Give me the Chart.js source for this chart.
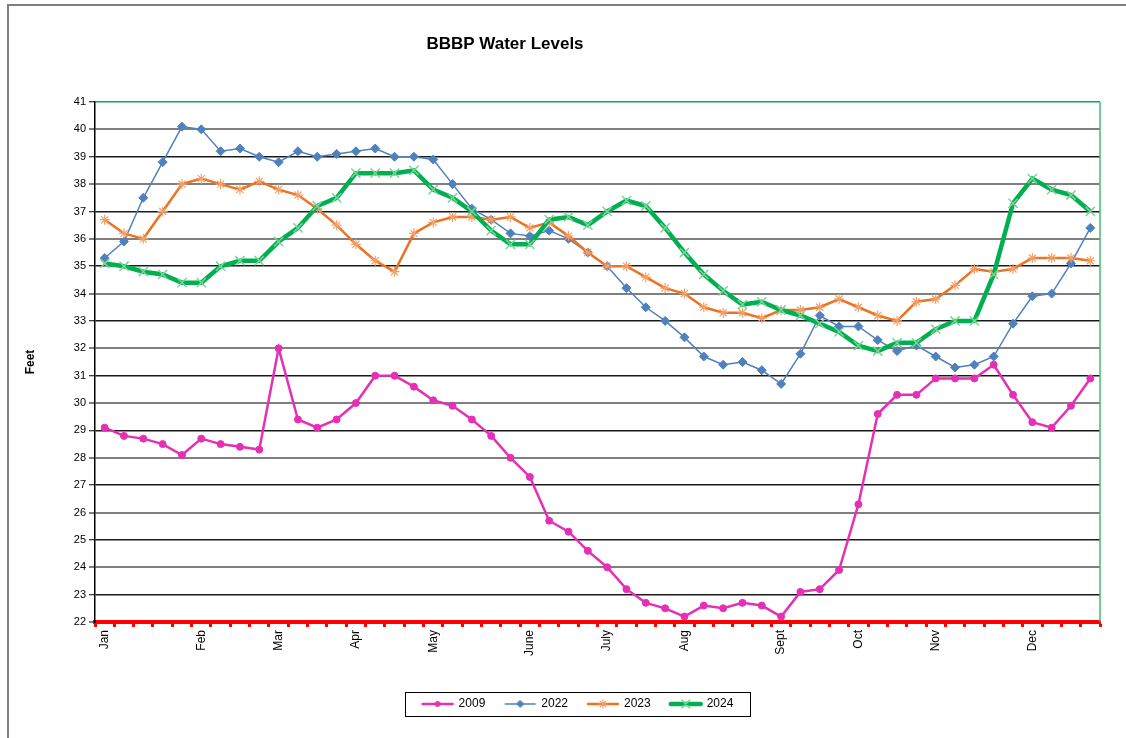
<!DOCTYPE html>
<html>
<head>
<meta charset="utf-8">
<script src="https://cdn.jsdelivr.net/npm/chart.js@4.4.1/dist/chart.umd.min.js"></script>
<style>
html,body{margin:0;padding:0;background:#fff;}
#wrap{position:relative;width:1126px;height:738px;overflow:hidden;}
#frame{position:absolute;left:7px;top:4px;width:1300px;height:900px;border:2px solid #808080;box-sizing:border-box;}
#c{position:absolute;left:0;top:0;}
</style>
</head>
<body>
<div id="wrap"><div id="frame"></div><canvas id="c" width="1126" height="738"></canvas></div>
<script>
const chartTitle = 'BBBP Water Levels';
const yAxisTitle = 'Feet';
const weekLabels = ['Jan','','','','','Feb','','','','Mar','','','','Apr','','','','May','','','','','June','','','','July','','','','Aug','','','','','Sept','','','','Oct','','','','Nov','','','','','Dec','','',''];
const seriesNames = ['2009','2022','2023','2024'];
const levels2009 = [29.1,28.8,28.7,28.5,28.1,28.7,28.5,28.4,28.3,32.0, 29.4,29.1,29.4,30.0,31.0,31.0,30.6,30.1,29.9,29.4, 28.8,28.0,27.3,25.7,25.3,24.6,24.0,23.2,22.7,22.5, 22.2,22.6,22.5,22.7,22.6,22.2,23.1,23.2,23.9,26.3, 29.6,30.3,30.3,30.9,30.9,30.9,31.4,30.3,29.3,29.1, 29.9,30.9];
const levels2022 = [35.3,35.9,37.5,38.8,40.1,40.0,39.2,39.3,39.0,38.8, 39.2,39.0,39.1,39.2,39.3,39.0,39.0,38.9,38.0,37.1, 36.7,36.2,36.1,36.3,36.0,35.5,35.0,34.2,33.5,33.0, 32.4,31.7,31.4,31.5,31.2,30.7,31.8,33.2,32.8,32.8, 32.3,31.9,32.1,31.7,31.3,31.4,31.7,32.9,33.9,34.0, 35.1,36.4];
const levels2023 = [36.7,36.2,36.0,37.0,38.0,38.2,38.0,37.8,38.1,37.8, 37.6,37.1,36.5,35.8,35.2,34.8,36.2,36.6,36.8,36.8, 36.7,36.8,36.4,36.6,36.1,35.5,35.0,35.0,34.6,34.2, 34.0,33.5,33.3,33.3,33.1,33.4,33.4,33.5,33.8,33.5, 33.2,33.0,33.7,33.8,34.3,34.9,34.8,34.9,35.3,35.3, 35.3,35.2];
const levels2024 = [35.1,35.0,34.8,34.7,34.4,34.4,35.0,35.2,35.2,35.9, 36.4,37.2,37.5,38.4,38.4,38.4,38.5,37.8,37.5,37.0, 36.3,35.8,35.8,36.7,36.8,36.5,37.0,37.4,37.2,36.4, 35.5,34.7,34.1,33.6,33.7,33.4,33.2,32.9,32.6,32.1, 31.9,32.2,32.2,32.7,33.0,33.0,34.7,37.3,38.2,37.8, 37.6,37.0];
const yMin = 22, yMax = 41;

const FONT = "'Liberation Sans', Arial, sans-serif";
Chart.defaults.font.family = FONT;
Chart.defaults.color = '#000';

function drawMarker(g, style, x, y, r, fill, stroke, bw) {
  g.save();
  g.fillStyle = fill; g.strokeStyle = stroke; g.lineWidth = bw;
  g.beginPath();
  if (style === 'circle') {
    g.arc(x, y, r, 0, Math.PI * 2); g.fill(); g.stroke();
  } else if (style === 'rectRot') {
    g.moveTo(x, y - r); g.lineTo(x + r, y); g.lineTo(x, y + r); g.lineTo(x - r, y); g.closePath(); g.fill(); g.stroke();
  } else if (style === 'star') {
    g.moveTo(x - r, y); g.lineTo(x + r, y);
    g.moveTo(x, y - r); g.lineTo(x, y + r);
    const d = r * 0.707;
    g.moveTo(x - d, y - d); g.lineTo(x + d, y + d);
    g.moveTo(x - d, y + d); g.lineTo(x + d, y - d);
    g.stroke();
  } else if (style === 'crossRot') {
    const d = r * 0.707;
    g.moveTo(x - d, y - d); g.lineTo(x + d, y + d);
    g.moveTo(x - d, y + d); g.lineTo(x + d, y - d);
    g.stroke();
  }
  g.restore();
}
function legendSample(color, lw, style, r, fill, stroke, bw) {
  const c = document.createElement('canvas');
  c.width = 36; c.height = 14;
  const g = c.getContext('2d');
  g.strokeStyle = color; g.lineWidth = lw; g.lineCap = 'round';
  g.beginPath(); g.moveTo(3, 7); g.lineTo(33, 7); g.stroke();
  drawMarker(g, style, 18, 7, r, fill, stroke, bw);
  return c;
}

const styles = [
  {color:'#E530B5', lw:2.5, style:'circle', r:3.5, fill:'#E530B5', stroke:'#E530B5', bw:1, order:3},
  {color:'#4F81BD', lw:1.5, style:'rectRot', r:4.5, fill:'#4F81BD', stroke:'#4F81BD', bw:1, order:2},
  {color:'#EB7321', lw:2.5, style:'star', r:5, fill:'#F2A06A', stroke:'#F2A06A', bw:1.2, order:1},
  {color:'#00B050', lw:4.5, style:'crossRot', r:6.5, fill:'#7CD39A', stroke:'#7CD39A', bw:1.5, order:0}
];
const seriesData = [levels2009, levels2022, levels2023, levels2024];
const samples = styles.map(s => legendSample(s.color, s.lw, s.style, s.r - 1, s.fill, s.stroke, s.bw));

const datasets = seriesNames.map((name, i) => ({
  label: name,
  data: seriesData[i],
  borderColor: styles[i].color,
  backgroundColor: styles[i].fill,
  borderWidth: styles[i].lw,
  pointStyle: styles[i].style,
  pointRadius: styles[i].r,
  pointBorderColor: styles[i].stroke,
  pointBackgroundColor: styles[i].fill,
  pointBorderWidth: styles[i].bw,
  tension: 0,
  order: styles[i].order
}));

const decor = {
  id: 'decor',
  afterDraw(chart) {
    const {ctx, chartArea} = chart;
    ctx.save();
    ctx.strokeStyle = '#3cbf6e'; ctx.lineWidth = 1.5;
    ctx.beginPath(); ctx.moveTo(chartArea.right, chartArea.top); ctx.lineTo(chartArea.right, chartArea.bottom); ctx.stroke();
    const hb = chart.legend && chart.legend.legendHitBoxes;
    if (hb && hb.length) {
      const l = Math.min(...hb.map(h => h.left)) - 18;
      const r = Math.max(...hb.map(h => h.left + h.width)) + 16;
      const t = hb[0].top - 6;
      const b = hb[0].top + hb[0].height + 6;
      ctx.strokeStyle = '#000'; ctx.lineWidth = 1;
      ctx.strokeRect(Math.round(l) + 0.5, Math.round(t) + 0.5, Math.round(r - l), Math.round(b - t));
    }
    ctx.fillStyle = '#000';
    ctx.font = 'bold 17px ' + FONT;
    ctx.textAlign = 'center'; ctx.textBaseline = 'middle';
    ctx.fillText(chartTitle, 505, 44);
    ctx.restore();
  }
};

new Chart(document.getElementById('c'), {
  type: 'line',
  data: { labels: weekLabels, datasets },
  plugins: [decor],
  options: {
    responsive: false,
    animation: false,
    devicePixelRatio: 1,
    layout: { padding: { left: 56, right: 26, top: 102, bottom: 18 } },
    plugins: {
      title: { display: false },
      tooltip: { enabled: false },
      legend: {
        display: true,
        position: 'bottom',
        labels: {
          usePointStyle: true,
          pointStyleWidth: 30,
          padding: 20,
          color: '#000',
          font: { size: 12 },
          sort: (a, b) => a.datasetIndex - b.datasetIndex,
          generateLabels(chart) {
            const items = Chart.defaults.plugins.legend.labels.generateLabels(chart);
            items.forEach(it => { it.pointStyle = samples[it.datasetIndex]; });
            return items;
          }
        }
      }
    },
    scales: {
      x: {
        type: 'category',
        offset: true,
        afterFit(scale) { scale.height = 56; },
        grid: { offset: true, drawOnChartArea: false, tickLength: 5, tickColor: '#ff0000', tickWidth: 3, color: '#ff0000' },
        border: { color: '#ff0000', width: 4 },
        ticks: { autoSkip: false, maxRotation: 90, minRotation: 90, padding: 3, color: '#000', font: { size: 12 } }
      },
      y: {
        min: yMin, max: yMax,
        afterFit(scale) { scale.width = 39; },
        ticks: { stepSize: 1, padding: 3, color: '#000', font: { size: 11 } },
        grid: {
          color: (c) => { const v = c.tick ? c.tick.value : 0; if (v === yMax) return '#00B050'; if (v === yMin) return 'rgba(0,0,0,0)'; return v % 2 === 0 ? '#7f7f7f' : '#1a1a1a'; },
          lineWidth: (c) => { const v = c.tick ? c.tick.value : 0; return v % 2 === 0 ? 2 : 1.5; },
          tickColor: '#000', tickWidth: 1, tickLength: 6
        },
        border: { color: '#000', width: 1.5 },
        title: { display: true, text: yAxisTitle, color: '#000', font: { size: 12, weight: 'bold' }, padding: { top: -33, bottom: 0 } }
      }
    }
  }
});
</script>
</body>
</html>
